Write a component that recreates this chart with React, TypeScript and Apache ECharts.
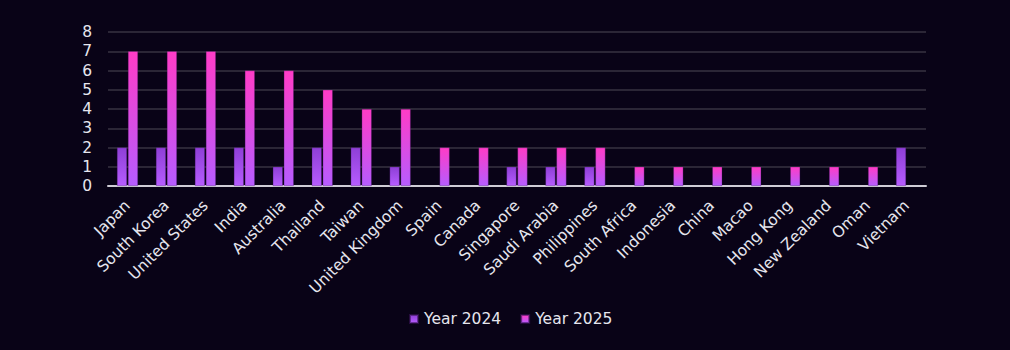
import React, { useEffect, useRef } from "react";
import * as echarts from "echarts";

const categories = [
  "Japan", "South Korea", "United States", "India", "Australia", "Thailand", "Taiwan",
  "United Kingdom", "Spain", "Canada", "Singapore", "Saudi Arabia", "Philippines",
  "South Africa", "Indonesia", "China", "Macao", "Hong Kong", "New Zealand", "Oman", "Vietnam",
];
const year2024 = [2, 2, 2, 2, 1, 2, 2, 1, null, null, 1, 1, 1, null, null, null, null, null, null, null, 2];
const year2025 = [7, 7, 7, 6, 6, 5, 4, 4, 2, 2, 2, 2, 2, 1, 1, 1, 1, 1, 1, 1, null];
const seriesNames = ["Year 2024", "Year 2025"];

const FONT = "'DejaVu Sans', sans-serif";

export default function App() {
  const ref = useRef<HTMLDivElement>(null);
  useEffect(() => {
    if (!ref.current) return;
    const chart = echarts.init(ref.current, null, { renderer: "svg" });
    const grad = (top: string, bottom: string) =>
      new echarts.graphic.LinearGradient(0, 0, 0, 1, [
        { offset: 0, color: top },
        { offset: 1, color: bottom },
      ]);
    chart.setOption({
      animation: false,
      backgroundColor: "#090317",
      textStyle: { fontFamily: FONT },
      grid: { left: 108, right: 84, top: 32, bottom: 164, containLabel: false },
      legend: {
        top: 306,
        left: 404,
        itemWidth: 8,
        itemHeight: 8,
        itemGap: 19,
        icon: "rect",
        textStyle: { color: "#e6e6ee", fontSize: 15.5, fontFamily: FONT, padding: [0, 0, 0, 1] },
        data: seriesNames,
      },
      xAxis: {
        type: "category",
        data: categories,
        axisLine: { lineStyle: { color: "#cfcdd6", width: 2 } },
        axisTick: { show: false },
        axisLabel: {
          rotate: 45,
          interval: 0,
          color: "#e6e6ee",
          fontSize: 15.5,
          margin: 17,
          fontFamily: FONT,
        },
      },
      yAxis: {
        type: "value",
        min: 0,
        max: 8,
        interval: 1,
        axisLine: { show: false },
        axisTick: { show: false },
        axisLabel: { color: "#e6e6ee", fontSize: 15.5, margin: 16, fontFamily: FONT },
        splitLine: { lineStyle: { color: "#2b2636", width: 2 } },
      },
      series: [
        {
          name: seriesNames[0],
          type: "bar",
          data: year2024,
          barWidth: 10,
          barGap: "10%",
          itemStyle: {
            color: grad("#8e3fd6", "#b65cff"),
            borderColor: "rgba(60,20,90,0.6)",
            borderWidth: 0.5,
          },
        },
        {
          name: seriesNames[1],
          type: "bar",
          data: year2025,
          barWidth: 10,
          barGap: "10%",
          itemStyle: {
            color: grad("#ff3cc6", "#b65cff"),
            borderColor: "rgba(60,20,90,0.6)",
            borderWidth: 0.5,
          },
        },
      ],
    });
    return () => chart.dispose();
  }, []);
  return (
    <div
      ref={ref}
      style={{ position: "fixed", left: 0, top: 0, width: 1010, height: 350 }}
    />
  );
}
